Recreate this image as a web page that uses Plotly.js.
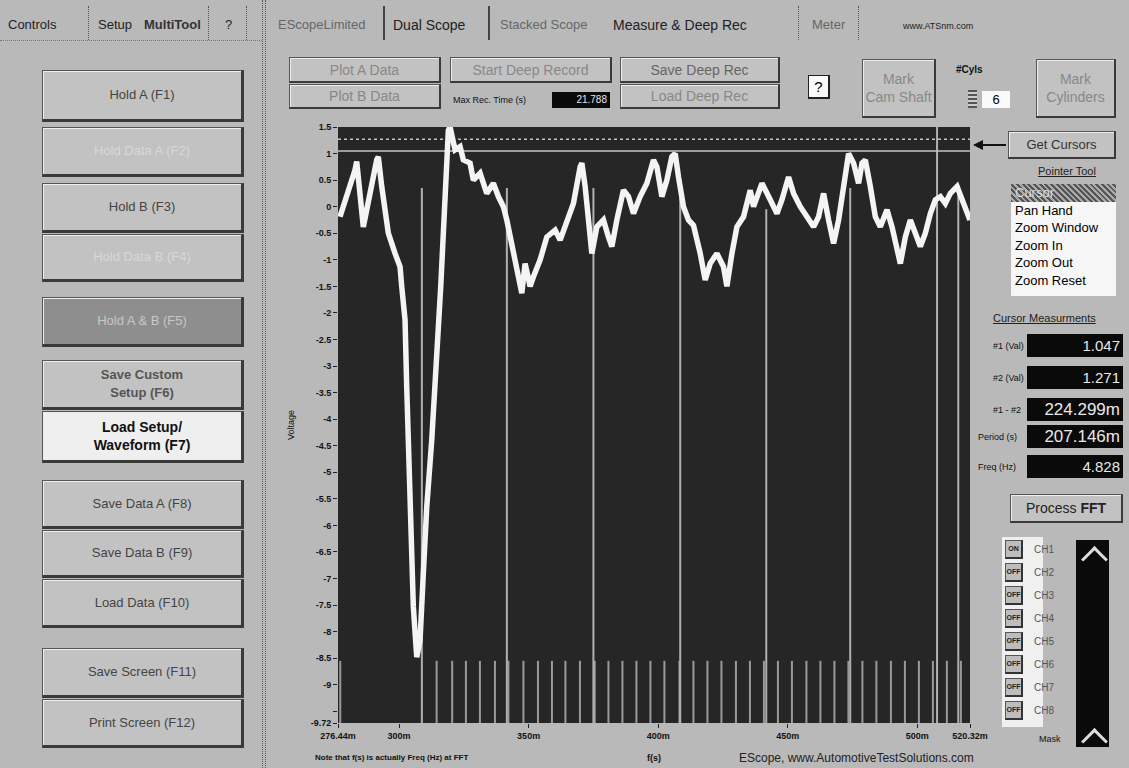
<!DOCTYPE html>
<html>
<head>
<meta charset="utf-8">
<script src="https://cdn.plot.ly/plotly-3.0.1.min.js"></script>
<style>
  html, body { margin:0; padding:0; }
  body { width:1129px; height:768px; position:relative; overflow:hidden; background:#b9b9b9; font-family:"Liberation Sans", Arial, sans-serif; }
  .abs { position:absolute; }
  .tab { position:absolute; top:17px; font-size:13px; color:#222; white-space:nowrap; }
  .tab.dim { color:#666; }
  .vsep { position:absolute; width:0; border-left:1px dotted #555; }
  .btn { position:absolute; box-sizing:border-box; background:#c2c2c2; border:1px solid #555;
         border-right:3px solid #3a3a3a; border-bottom:3px solid #3a3a3a; box-shadow: inset 1px 1px 0 #eee;
         display:flex; align-items:center; justify-content:center; text-align:center;
         font-size:13px; color:#444; line-height:18px; }
  .btn.dis { color:#d8d8d8; }
  .btn.dark { background:#8e8e8e; color:#c8c8c8; }
  .btn.white { background:#efefef; color:#111; font-weight:bold; font-size:14px; }
  .btn.thin { border-right:2px solid #3a3a3a; border-bottom:2px solid #3a3a3a; }
  .lcd { position:absolute; box-sizing:border-box; background:#0a0a0a; color:#e8e8e8; text-align:right;
         padding-right:3px; font-size:15px; }
  .lbl { position:absolute; font-size:9px; color:#111; white-space:nowrap; }
  .item { font-size:13px; color:#000; line-height:17.5px; padding-left:4px; }
  #chart { position:absolute; left:0; top:0; width:1129px; height:768px; }
</style>
</head>
<body>
<!-- tab bar -->
<div class="tab" style="left:8px;">Controls</div>
<div class="vsep" style="left:88px;top:6px;height:34px;"></div>
<div class="tab" style="left:98px;">Setup</div>
<div class="tab" style="left:144px;font-weight:bold;color:#333;">MultiTool</div>
<div class="vsep" style="left:208px;top:6px;height:34px;"></div>
<div class="tab" style="left:225px;">?</div>
<div class="vsep" style="left:246px;top:6px;height:34px;"></div>
<div class="abs" style="left:262px;top:0;width:2px;height:768px;border-left:1px dotted #555;border-right:1px dotted #555;"></div>
<div class="tab dim" style="left:278px;">EScopeLimited</div>
<div class="vsep" style="left:383px;top:6px;height:34px;border-left:2px solid #444;"></div>
<div class="tab" style="left:393px;font-size:14px;">Dual Scope</div>
<div class="vsep" style="left:488px;top:6px;height:34px;border-left:2px solid #444;"></div>
<div class="tab dim" style="left:500px;">Stacked Scope</div>
<div class="tab" style="left:613px;font-size:14px;">Measure &amp; Deep Rec</div>
<div class="vsep" style="left:798px;top:6px;height:34px;"></div>
<div class="tab dim" style="left:812px;">Meter</div>
<div class="vsep" style="left:858px;top:6px;height:34px;"></div>
<div class="tab" style="left:903px;font-size:9px;top:21px;">www.ATSnm.com</div>
<div class="abs" style="left:0;top:40px;width:262px;height:0;border-top:1px dotted #777;"></div>

<!-- left control buttons -->
<div class="btn" style="left:42px;top:70px;width:202px;height:52px;">Hold A (F1)</div>
<div class="btn dis" style="left:42px;top:127px;width:202px;height:50px;">Hold Data A (F2)</div>
<div class="btn" style="left:42px;top:183px;width:202px;height:50px;">Hold B (F3)</div>
<div class="btn dis" style="left:42px;top:234px;width:202px;height:48px;">Hold Data B (F4)</div>
<div class="btn dark" style="left:42px;top:297px;width:202px;height:50px;">Hold A &amp; B (F5)</div>
<div class="btn" style="left:42px;top:360px;width:202px;height:50px;font-weight:bold;color:#555;">Save Custom<br>Setup (F6)</div>
<div class="btn white" style="left:42px;top:411px;width:202px;height:52px;">Load Setup/<br>Waveform (F7)</div>
<div class="btn" style="left:42px;top:480px;width:202px;height:49px;">Save Data A (F8)</div>
<div class="btn" style="left:42px;top:530px;width:202px;height:48px;">Save Data B (F9)</div>
<div class="btn" style="left:42px;top:579px;width:202px;height:49px;">Load Data (F10)</div>
<div class="btn" style="left:42px;top:648px;width:202px;height:50px;">Save Screen (F11)</div>
<div class="btn" style="left:42px;top:699px;width:202px;height:49px;">Print Screen (F12)</div>

<!-- top plot controls -->
<div class="btn dis thin" style="left:289px;top:57px;width:152px;height:26px;font-size:14px;color:#888;">Plot A Data</div>
<div class="btn dis thin" style="left:289px;top:84px;width:152px;height:25px;font-size:14px;color:#888;">Plot B Data</div>
<div class="btn dis thin" style="left:450px;top:57px;width:162px;height:26px;font-size:14px;color:#888;">Start Deep Record</div>
<div class="lbl" style="left:453px;top:95px;">Max Rec. Time (s)</div>
<div class="lcd" style="left:552px;top:92px;width:58px;height:16px;font-size:10px;line-height:16px;">21.788</div>
<div class="btn thin" style="left:620px;top:57px;width:160px;height:26px;font-size:14px;color:#666;">Save Deep Rec</div>
<div class="btn dis thin" style="left:620px;top:84px;width:160px;height:25px;font-size:14px;color:#888;">Load Deep Rec</div>
<div class="abs" style="left:808px;top:75px;width:22px;height:24px;box-sizing:border-box;background:#fafafa;border:1px solid #222;border-right:2px solid #222;border-bottom:2px solid #222;font-size:15px;text-align:center;line-height:21px;">?</div>
<div class="btn dis thin" style="left:862px;top:59px;width:74px;height:59px;font-size:14px;color:#888;">Mark<br>Cam Shaft</div>
<div class="lbl" style="left:956px;top:64px;font-size:10px;font-weight:bold;">#Cyls</div>
<div class="abs" style="left:968px;top:90px;width:9px;height:18px;background:repeating-linear-gradient(180deg,#555 0 2px,#ccc 2px 4px);"></div>
<div class="abs" style="left:982px;top:91px;width:28px;height:17px;background:#fafafa;font-size:13px;text-align:center;line-height:17px;">6</div>
<div class="btn dis thin" style="left:1036px;top:59px;width:80px;height:59px;font-size:14px;color:#888;">Mark<br>Cylinders</div>

<!-- arrow and right panel -->
<div class="abs" style="left:982px;top:144px;width:24px;height:0;border-top:2px solid #111;"></div>
<div class="abs" style="left:973px;top:140px;width:0;height:0;border-top:5px solid transparent;border-bottom:5px solid transparent;border-right:10px solid #111;"></div>
<div class="btn thin" style="left:1008px;top:131px;width:108px;height:28px;font-size:13px;color:#333;">Get Cursors</div>
<div class="abs" style="left:1038px;top:165px;font-size:11px;color:#222;text-decoration:underline;">Pointer Tool</div>
<div class="abs" style="left:1011px;top:184px;width:105px;height:112px;background:#f6f6f6;">
  <div class="item" style="background:repeating-linear-gradient(45deg,#555 0 2px,#aaa 2px 4px);color:#ddd;">Cursor</div>
  <div class="item">Pan Hand</div>
  <div class="item">Zoom Window</div>
  <div class="item">Zoom In</div>
  <div class="item">Zoom Out</div>
  <div class="item">Zoom Reset</div>
</div>
<div class="abs" style="left:993px;top:312px;font-size:11px;color:#222;text-decoration:underline;">Cursor Measurments</div>
<div class="lbl" style="left:993px;top:341px;">#1 (Val)</div>
<div class="lcd" style="left:1027px;top:334px;width:96px;height:23px;line-height:23px;">1.047</div>
<div class="lbl" style="left:993px;top:373px;">#2 (Val)</div>
<div class="lcd" style="left:1027px;top:366px;width:96px;height:23px;line-height:23px;">1.271</div>
<div class="lbl" style="left:993px;top:405px;">#1 - #2</div>
<div class="lcd" style="left:1027px;top:398px;width:96px;height:23px;line-height:23px;font-size:17px;">224.299m</div>
<div class="lbl" style="left:978px;top:432px;">Period (s)</div>
<div class="lcd" style="left:1027px;top:425px;width:96px;height:23px;line-height:23px;font-size:17px;">207.146m</div>
<div class="lbl" style="left:978px;top:462px;">Freq (Hz)</div>
<div class="lcd" style="left:1027px;top:455px;width:96px;height:23px;line-height:23px;">4.828</div>
<div class="btn thin" style="left:1010px;top:494px;width:113px;height:29px;font-size:14px;color:#222;">Process <b>&nbsp;FFT</b></div>

<!-- channel list -->
<div class="abs" style="left:1002px;top:537px;width:41px;height:190px;background:#f0f0f0;"></div>
<div id="chans"></div>
<div class="abs" style="left:1076px;top:540px;width:33px;height:207px;background:#0a0a0a;"></div>
<div class="abs" style="left:1081px;top:546px;width:16px;height:16px;border-left:3px solid #ddd;border-top:3px solid #ddd;transform:translate(4px,4px) rotate(45deg);"></div>
<div class="abs" style="left:1081px;top:728px;width:16px;height:16px;border-left:3px solid #ddd;border-top:3px solid #ddd;transform:translate(4px,4px) rotate(45deg);"></div>
<div class="lbl" style="left:1039px;top:734px;">Mask</div>

<div id="chart"></div>

<script>
// ---- data ----
// main waveform: time (ms) and voltage (V)
const timeMs = [277.21,279.80,283.00,283.66,286.21,291.38,292.00,293.31,295.86,298.45,300.38,301.03,302.31,302.96,303.58,304.24,304.90,305.51,306.83,308.10,309.37,310.69,312.62,316.09,319.03,319.68,321.61,323.54,324.82,327.40,328.68,331.27,333.85,336.40,338.33,340.26,341.58,343.51,345.44,347.37,348.64,350.57,351.85,354.44,357.02,360.23,362.16,364.74,367.29,369.88,370.54,371.81,373.74,374.40,376.33,378.87,380.80,382.12,384.05,386.59,388.53,390.46,393.04,395.63,398.18,399.49,401.42,403.35,405.28,406.56,407.83,409.76,411.69,413.62,416.21,418.14,420.07,422.66,425.20,426.52,428.45,430.38,432.93,435.52,436.79,440.03,443.24,445.83,447.76,450.31,452.24,454.83,457.41,459.96,461.89,463.82,465.75,467.68,469.61,471.54,473.47,475.40,477.33,478.65,479.92,481.85,483.78,485.71,488.30,490.23,492.16,493.44,495.37,497.30,499.23,501.16,503.09,505.02,506.95,508.88,510.81,512.74,515.33,517.26,519.19,520.30];
const voltage = [-0.19,0.19,0.69,0.85,-0.38,0.88,0.94,0.38,-0.50,-0.88,-1.13,-1.50,-2.13,-3.39,-4.58,-5.02,-6.28,-7.53,-8.48,-8.16,-6.90,-5.65,-4.39,-1.50,1.44,1.50,1.07,1.13,0.88,0.82,0.50,0.63,0.25,0.44,0.19,0.00,-0.25,-0.75,-1.13,-1.63,-1.07,-1.50,-1.32,-1.00,-0.57,-0.44,-0.63,-0.31,0.06,0.75,0.82,0.38,-0.57,-0.88,-0.38,-0.25,-0.57,-0.75,-0.25,0.31,0.19,-0.13,0.19,0.44,0.88,0.75,0.19,0.50,0.94,1.00,0.56,0.00,-0.25,-0.35,-0.88,-1.38,-1.07,-0.88,-1.13,-1.50,-0.88,-0.38,-0.19,0.31,0.00,0.44,0.13,-0.13,0.13,0.56,0.25,0.00,-0.19,-0.38,-0.19,0.25,-0.25,-0.69,-0.25,0.38,1.00,0.82,0.44,0.82,0.88,0.38,-0.19,-0.38,-0.06,-0.38,-0.82,-1.07,-0.57,-0.25,-0.50,-0.75,-0.50,-0.13,0.13,0.19,0.06,0.25,0.38,0.13,-0.13,-0.25];
// cylinder marker lines: time (ms) and upper end (V)
const markerTimes = [308.8, 341.6, 375.0, 408.5, 441.7, 474.1, 507.6, 515.8];
const markerTops  = [0.35, 0.35, 0.35, 0.50, -0.05, 0.35, 1.50, 0.40];
// short pulse bars along the bottom (ms)
const pulseTimes = [277.3, 314.5, 320.5, 325.8, 331.2, 337.0, 342.2, 348.0, 353.6, 359.0, 364.2, 369.8, 375.5, 380.8, 386.2, 391.6, 397.0, 402.4, 408.2, 413.6, 419.0, 424.4, 430.0, 435.4, 440.8, 446.2, 451.6, 457.2, 462.6, 468.0, 473.4, 478.8, 484.2, 489.8, 495.2, 500.6, 506.0, 511.4, 516.8];
const pulseTop = -8.55;
// horizontal cursors (V)
const cursorVals = [1.047, 1.271];
// axes
const xRange = [276.44, 520.32];
const yRange = [-9.72, 1.5];
const xTickVals = [276.44, 300, 350, 400, 450, 500, 520.32];
const xTickText = ['276.44m', '300m', '350m', '400m', '450m', '500m', '520.32m'];
const yTickVals = [1.5,1,0.5,0,-0.5,-1,-1.5,-2,-2.5,-3,-3.5,-4,-4.5,-5,-5.5,-6,-6.5,-7,-7.5,-8,-8.5,-9,-9.5,-9.72];
const yTickText = ['1.5','1','0.5','0','-0.5','-1','-1.5','-2','-2.5','-3','-3.5','-4','-4.5','-5','-5.5','-6','-6.5','-7','-7.5','-8','-8.5','-9','','-9.72'];
// channel panel
const channels = ['CH1','CH2','CH3','CH4','CH5','CH6','CH7','CH8'];
const channelState = ['ON','OFF','OFF','OFF','OFF','OFF','OFF','OFF'];

// channel buttons (HTML)
const chDiv = document.getElementById('chans');
channels.forEach((c, i) => {
  const top = 540 + i * 23;
  const b = document.createElement('div');
  b.className = 'abs';
  b.style.cssText = `left:1005px;top:${top}px;width:18px;height:19px;box-sizing:border-box;background:#bdbdbd;border:1px solid #555;border-right:2px solid #333;border-bottom:2px solid #333;font-size:7px;font-weight:bold;text-align:center;line-height:16px;color:#222;`;
  b.textContent = channelState[i];
  chDiv.appendChild(b);
  const l = document.createElement('div');
  l.className = 'lbl';
  l.style.cssText = `left:1034px;top:${top + 4}px;font-size:10px;color:#555;`;
  l.textContent = c;
  chDiv.appendChild(l);
});

// build segment arrays for vertical lines
const mx = [], my = [];
markerTimes.forEach((t, i) => { mx.push(t, t, null); my.push(markerTops[i], yRange[0], null); });
const px = [], py = [];
pulseTimes.forEach(t => { px.push(t, t, null); py.push(pulseTop, yRange[0], null); });
const cx = [], cy = [];
cursorVals.forEach(v => { cx.push(xRange[0], xRange[1], null); cy.push(v, v, null); });

const traces = [
  { x: px, y: py, mode: 'lines', line: { color: '#9a9a9a', width: 2 }, hoverinfo: 'skip', showlegend: false },
  { x: mx, y: my, mode: 'lines', line: { color: '#b0b0b0', width: 2 }, hoverinfo: 'skip', showlegend: false },
  { x: [cx[0], cx[1]], y: [cy[0], cy[1]], mode: 'lines', line: { color: '#c4c4c4', width: 1.5 }, hoverinfo: 'skip', showlegend: false },
  { x: [cx[3], cx[4]], y: [cy[3], cy[4]], mode: 'lines', line: { color: '#c4c4c4', width: 1.5, dash: 'dot' }, hoverinfo: 'skip', showlegend: false },
  { x: timeMs, y: voltage, mode: 'lines', line: { color: '#f4f4f4', width: 5.5 }, showlegend: false }
];

const tickFont = { family: '"Liberation Sans", Arial, sans-serif', size: 9, color: '#111', weight: 'bold' };
const layout = {
  width: 1129, height: 768,
  margin: { l: 338, r: 159, t: 127, b: 45, pad: 0 },
  paper_bgcolor: 'rgba(0,0,0,0)',
  plot_bgcolor: '#262626',
  showlegend: false,
  xaxis: {
    range: xRange, tickmode: 'array', tickvals: xTickVals, ticktext: xTickText,
    ticks: 'outside', ticklen: 4, tickcolor: '#222', showgrid: false, zeroline: false, showline: false,
    tickfont: tickFont,
    title: { text: 'f(s)', font: { family: '"Liberation Sans", Arial, sans-serif', size: 9, color: '#111', weight: 'bold' }, standoff: 14 }
  },
  yaxis: {
    range: yRange, tickmode: 'array', tickvals: yTickVals, ticktext: yTickText,
    ticks: 'outside', ticklen: 4, tickcolor: '#222', showgrid: false, zeroline: false, showline: false,
    tickfont: tickFont,
    title: { text: 'Voltage', font: { family: '"Liberation Sans", Arial, sans-serif', size: 9, color: '#111' }, standoff: 14 }
  },
  annotations: [
    { text: 'Note that f(s) is actually Freq (Hz) at FFT', xref: 'paper', yref: 'paper', x: -0.04, y: -0.058,
      xanchor: 'left', yanchor: 'middle', showarrow: false,
      font: { family: '"Liberation Sans", Arial, sans-serif', size: 8, color: '#111', weight: 'bold' } },
    { text: 'EScope, www.AutomotiveTestSolutions.com', xref: 'paper', yref: 'paper', x: 1.01, y: -0.058,
      xanchor: 'right', yanchor: 'middle', showarrow: false,
      font: { family: '"Liberation Sans", Arial, sans-serif', size: 12, color: '#222' } }
  ]
};

Plotly.newPlot('chart', traces, layout, { staticPlot: true, displayModeBar: false });
</script>
</body>
</html>
